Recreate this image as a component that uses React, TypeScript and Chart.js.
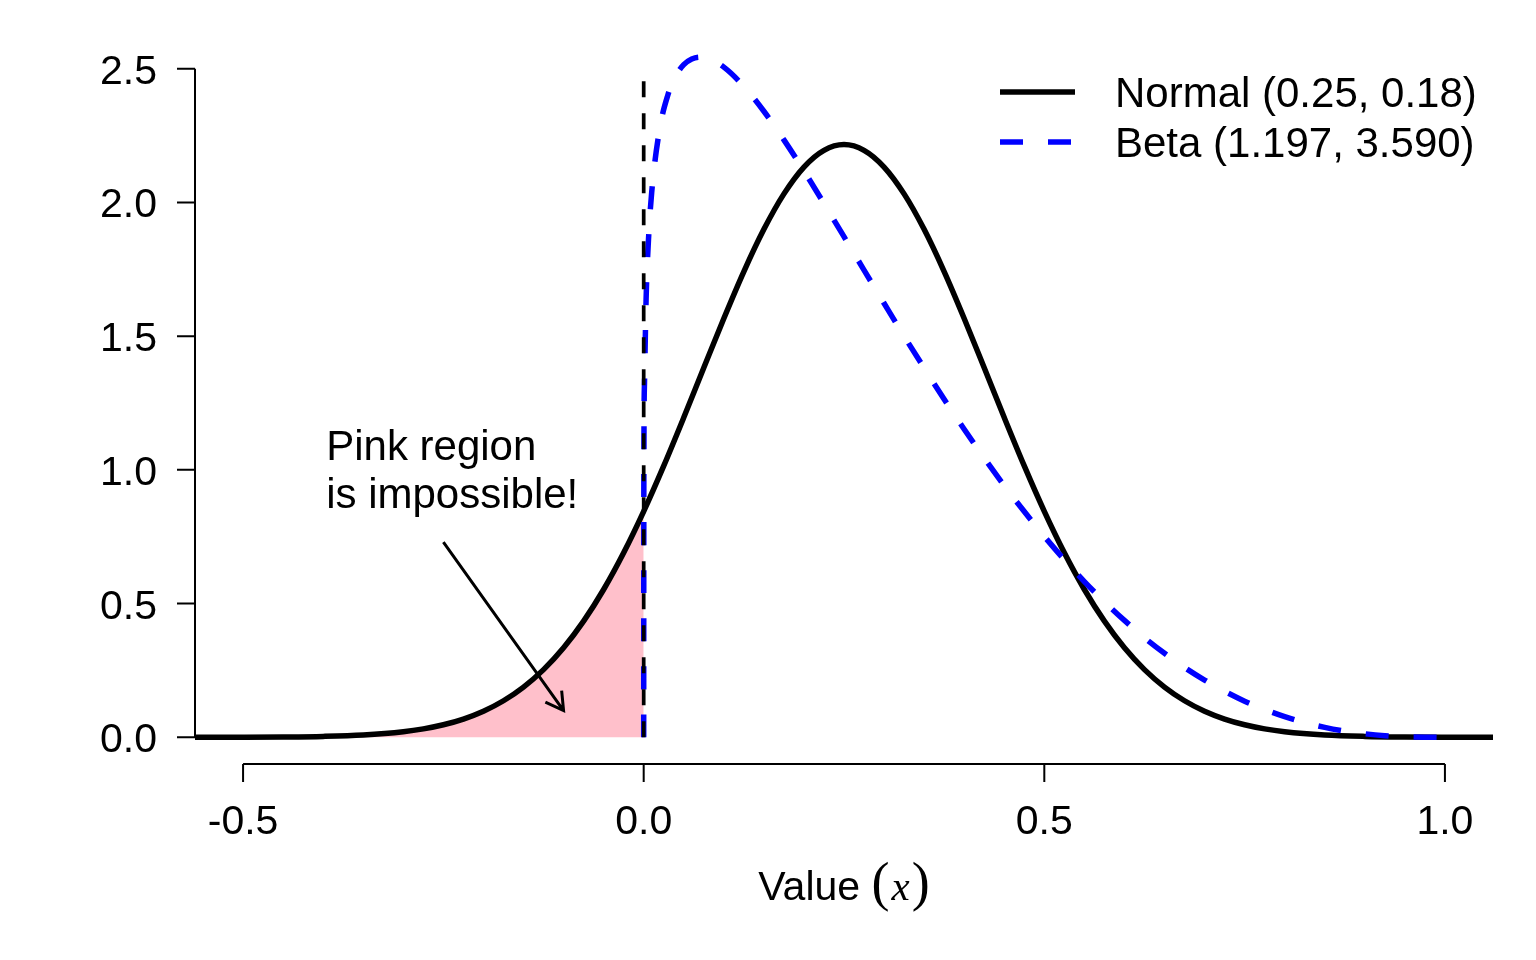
import React, { useEffect, useRef } from 'react';
import { Chart, registerables } from 'chart.js';

Chart.register(...registerables);

// Normal(0.25, 0.18) density
const normalX = [
  -0.56, -0.5, -0.45, -0.4, -0.35, -0.3, -0.275, -0.25, -0.225, -0.2,
  -0.175, -0.15, -0.125, -0.1, -0.075, -0.05, -0.025, 0, 0.025, 0.05,
  0.075, 0.1, 0.125, 0.15, 0.175, 0.2, 0.225, 0.25, 0.275, 0.3,
  0.325, 0.35, 0.375, 0.4, 0.425, 0.45, 0.475, 0.5, 0.525, 0.55,
  0.575, 0.6, 0.625, 0.65, 0.675, 0.7, 0.725, 0.75, 0.775, 0.8,
  0.85, 0.9, 0.95, 1.0, 1.06,
];
const normalY = [
  0.0001, 0.0004, 0.0012, 0.0033, 0.0086, 0.0208, 0.0315, 0.0468, 0.0682, 0.0974,
  0.1365, 0.1877, 0.253, 0.3347, 0.4342, 0.5526, 0.6899, 0.8448, 1.0147, 1.1955,
  1.3816, 1.5661, 1.7415, 1.8994, 2.032, 2.1324, 2.195, 2.2163, 2.195, 2.1324,
  2.032, 1.8994, 1.7415, 1.5661, 1.3816, 1.1955, 1.0147, 0.8448, 0.6899, 0.5526,
  0.4342, 0.3347, 0.253, 0.1877, 0.1365, 0.0974, 0.0682, 0.0468, 0.0315, 0.0208,
  0.0086, 0.0033, 0.0012, 0.0004, 0.0001,
];

// Beta(1.197, 3.590) density
const betaX = [
  0, 0.0002, 0.001, 0.003, 0.006, 0.01, 0.02, 0.03, 0.04, 0.05,
  0.06, 0.07, 0.08, 0.1, 0.125, 0.15, 0.175, 0.2, 0.225, 0.25,
  0.275, 0.3, 0.325, 0.35, 0.375, 0.4, 0.425, 0.45, 0.475, 0.5,
  0.525, 0.55, 0.575, 0.6, 0.625, 0.65, 0.675, 0.7, 0.725, 0.75,
  0.775, 0.8, 0.825, 0.85, 0.875, 0.9, 0.925, 0.95, 0.975, 1.0,
];
const betaY = [
  0, 0.968, 1.326, 1.637, 1.862, 2.038, 2.276, 2.4, 2.473, 2.515,
  2.536, 2.543, 2.539, 2.506, 2.434, 2.341, 2.234, 2.118, 1.996, 1.872,
  1.747, 1.623, 1.5, 1.381, 1.264, 1.152, 1.044, 0.941, 0.844, 0.751,
  0.664, 0.582, 0.507, 0.437, 0.372, 0.314, 0.261, 0.214, 0.172, 0.135,
  0.104, 0.077, 0.055, 0.037, 0.023, 0.013, 0.006, 0.002, 0.0004, 0,
];

const xTicks = [-0.5, 0, 0.5, 1];
const xTickLabels = ['-0.5', '0.0', '0.5', '1.0'];
const yTicks = [0, 0.5, 1, 1.5, 2, 2.5];
const yTickLabels = ['0.0', '0.5', '1.0', '1.5', '2.0', '2.5'];

const legendLabels = ['Normal (0.25, 0.18)', 'Beta (1.197, 3.590)'];
const noteLines = ['Pink region', 'is impossible!'];
const noteAt = { x: -0.4, y: 1.0 };
const arrowFrom = { x: -0.25, y: 0.73 };
const arrowTo = { x: -0.1, y: 0.1 };
const cutoffLine = [
  { x: 0, y: 0 },
  { x: 0, y: 2.5 },
];

const SANS = '"Liberation Sans", Arial, sans-serif';
const SERIF = '"Liberation Serif", "Times New Roman", serif';
const BLUE = '#0000FF';
const PINK = '#FFC0CB';

const toPoints = (xs: number[], ys: number[]) => xs.map((x, i) => ({ x, y: ys[i] }));

// R base-graphics style axes, legend and annotation
const rDecor = {
  id: 'rDecor',
  afterDraw(chart: any) {
    const { ctx, chartArea } = chart;
    const sx = chart.scales.x;
    const sy = chart.scales.y;
    ctx.save();
    ctx.strokeStyle = '#000';
    ctx.fillStyle = '#000';
    ctx.lineCap = 'butt';
    ctx.setLineDash([]);

    // y axis
    const ax = chartArea.left;
    ctx.lineWidth = 2;
    ctx.beginPath();
    ctx.moveTo(ax, sy.getPixelForValue(yTicks[0]));
    ctx.lineTo(ax, sy.getPixelForValue(yTicks[yTicks.length - 1]));
    yTicks.forEach((v) => {
      const py = sy.getPixelForValue(v);
      ctx.moveTo(ax, py);
      ctx.lineTo(ax - 18, py);
    });
    ctx.stroke();
    ctx.font = `41px ${SANS}`;
    ctx.textAlign = 'right';
    ctx.textBaseline = 'alphabetic';
    yTicks.forEach((v, i) => ctx.fillText(yTickLabels[i], ax - 38, sy.getPixelForValue(v) + 15));

    // x axis
    const ay = chartArea.bottom;
    ctx.beginPath();
    ctx.moveTo(sx.getPixelForValue(xTicks[0]), ay);
    ctx.lineTo(sx.getPixelForValue(xTicks[xTicks.length - 1]), ay);
    xTicks.forEach((v) => {
      const px = sx.getPixelForValue(v);
      ctx.moveTo(px, ay);
      ctx.lineTo(px, ay + 18);
    });
    ctx.stroke();
    ctx.textAlign = 'center';
    xTicks.forEach((v, i) => ctx.fillText(xTickLabels[i], sx.getPixelForValue(v), ay + 70));

    // x axis title: Value (x)
    ctx.textAlign = 'left';
    const parts = [
      { t: 'Value ', f: `41px ${SANS}` },
      { t: '(', f: `54px ${SERIF}` },
      { t: 'x', f: `italic 41px ${SERIF}` },
      { t: ')', f: `54px ${SERIF}` },
    ];
    const widths = parts.map((p) => {
      ctx.font = p.f;
      return ctx.measureText(p.t).width;
    });
    const total = widths.reduce((a, b) => a + b, 0) + 4;
    let cx = (chartArea.left + chartArea.right) / 2 - total / 2;
    parts.forEach((p, i) => {
      ctx.font = p.f;
      ctx.fillText(p.t, cx, 900);
      cx += widths[i] + (i === 1 || i === 2 ? 2 : 0);
    });

    // annotation text
    ctx.font = `42px ${SANS}`;
    const tx = sx.getPixelForValue(noteAt.x) + 3;
    const ty = sy.getPixelForValue(noteAt.y);
    ctx.fillText(noteLines[0], tx, ty - 10);
    ctx.fillText(noteLines[1], tx, ty + 38);

    // arrow
    const x0 = sx.getPixelForValue(arrowFrom.x);
    const y0 = sy.getPixelForValue(arrowFrom.y);
    const x1 = sx.getPixelForValue(arrowTo.x);
    const y1 = sy.getPixelForValue(arrowTo.y);
    const ang = Math.atan2(y1 - y0, x1 - x0);
    const head = 20;
    ctx.lineWidth = 3;
    ctx.beginPath();
    ctx.moveTo(x0, y0);
    ctx.lineTo(x1, y1);
    ctx.moveTo(x1 - head * Math.cos(ang - Math.PI / 6), y1 - head * Math.sin(ang - Math.PI / 6));
    ctx.lineTo(x1, y1);
    ctx.lineTo(x1 - head * Math.cos(ang + Math.PI / 6), y1 - head * Math.sin(ang + Math.PI / 6));
    ctx.stroke();

    // legend
    const lx0 = 1000;
    const lx1 = 1075;
    const rows = [92, 142];
    ctx.lineWidth = 5.5;
    ctx.strokeStyle = '#000';
    ctx.beginPath();
    ctx.moveTo(lx0, rows[0]);
    ctx.lineTo(lx1, rows[0]);
    ctx.stroke();
    ctx.strokeStyle = BLUE;
    ctx.setLineDash([23, 25]);
    ctx.beginPath();
    ctx.moveTo(lx0, rows[1]);
    ctx.lineTo(lx1, rows[1]);
    ctx.stroke();
    ctx.setLineDash([]);
    ctx.font = `42px ${SANS}`;
    ctx.textAlign = 'left';
    legendLabels.forEach((t, i) => ctx.fillText(t, 1115, rows[i] + 15));

    ctx.restore();
  },
};

const App: React.FC = () => {
  const canvasRef = useRef<HTMLCanvasElement>(null);

  useEffect(() => {
    if (!canvasRef.current) return;
    const normalPts = toPoints(normalX, normalY);
    const pinkPts = normalPts.filter((p) => p.x <= 0);

    const chart = new Chart(canvasRef.current, {
      type: 'scatter',
      data: {
        datasets: [
          {
            label: 'impossible',
            data: pinkPts,
            showLine: true,
            fill: 'origin',
            backgroundColor: PINK,
            borderWidth: 0,
            borderColor: 'rgba(0,0,0,0)',
            pointRadius: 0,
            cubicInterpolationMode: 'monotone',
            order: 4,
          },
          {
            label: legendLabels[0],
            data: normalPts,
            showLine: true,
            borderColor: '#000',
            borderWidth: 5.5,
            pointRadius: 0,
            cubicInterpolationMode: 'monotone',
            order: 3,
          },
          {
            label: legendLabels[1],
            data: toPoints(betaX, betaY),
            showLine: true,
            borderColor: BLUE,
            borderWidth: 5.5,
            borderDash: [23, 25],
            pointRadius: 0,
            cubicInterpolationMode: 'monotone',
            order: 2,
          },
          {
            label: 'cutoff',
            data: cutoffLine,
            showLine: true,
            borderColor: '#000',
            borderWidth: 3.7,
            borderDash: [16, 16],
            pointRadius: 0,
            order: 1,
          },
        ],
      },
      options: {
        animation: false,
        responsive: true,
        maintainAspectRatio: false,
        layout: { padding: { left: 195, right: 43, top: 42, bottom: 196 } },
        plugins: {
          legend: { display: false },
          tooltip: { enabled: false },
        },
        elements: { line: { borderCapStyle: 'butt', borderJoinStyle: 'round' } },
        scales: {
          x: { type: 'linear', min: -0.56, max: 1.06, display: false },
          y: { type: 'linear', min: -0.1, max: 2.6, display: false },
        },
      },
      plugins: [rDecor],
    });

    return () => chart.destroy();
  }, []);

  return (
    <div style={{ position: 'fixed', left: 0, top: 0, width: 1536, height: 960, background: '#fff' }}>
      <canvas ref={canvasRef} />
    </div>
  );
};

export default App;
